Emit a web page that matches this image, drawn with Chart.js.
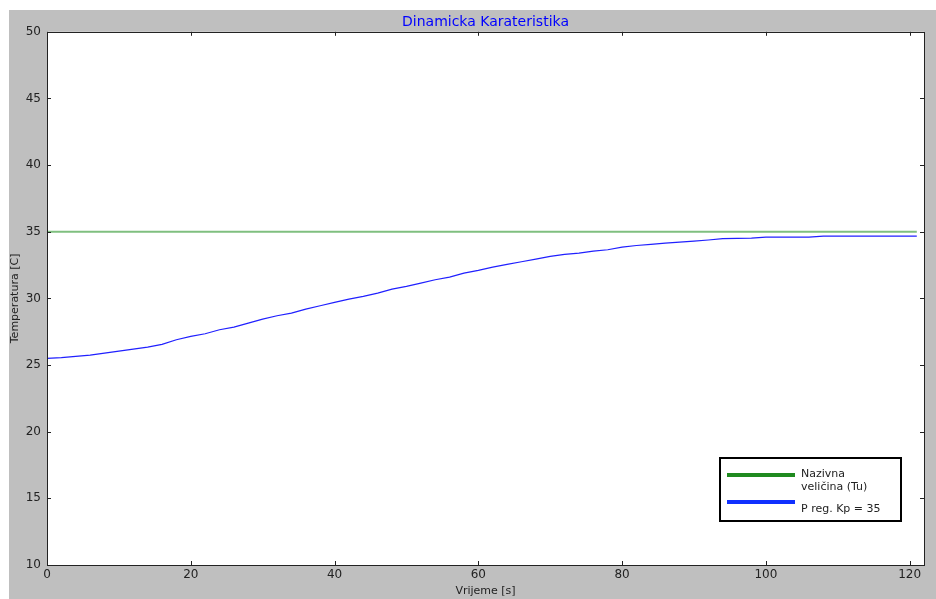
<!DOCTYPE html>
<html>
<head>
<meta charset="utf-8">
<script src="https://cdn.jsdelivr.net/npm/chart.js@4/dist/chart.umd.min.js"></script>
<style>
  html, body { margin: 0; padding: 0; background: #ffffff; }
  #wrap { position: absolute; left: 0; top: 0; width: 936px; height: 599px; }
</style>
</head>
<body>
<div id="wrap"><canvas id="chart" width="936" height="599"></canvas></div>
<script>
// Vrijeme [s] i izmjerena temperatura (ocitano sa slike)
const timeSec = [0, 2, 4, 6, 8, 10, 12, 14, 16, 18, 20, 22, 24, 26, 28, 30, 32, 34, 36, 38,
    40, 42, 44, 46, 48, 50, 52, 54, 56, 58, 60, 62, 64, 66, 68, 70, 72, 74, 76, 78,
    80, 82, 84, 86, 88, 90, 92, 94, 96, 98, 100, 102, 104, 106, 108, 110, 112, 114, 116, 118, 120, 121];
const tempMeasured = [25.50, 25.55, 25.65, 25.75, 25.90, 26.05, 26.20, 26.35, 26.55, 26.90,
    27.15, 27.35, 27.65, 27.85, 28.15, 28.45, 28.70, 28.90, 29.20, 29.45,
    29.70, 29.95, 30.15, 30.40, 30.70, 30.90, 31.15, 31.40, 31.60, 31.90,
    32.10, 32.35, 32.55, 32.75, 32.95, 33.15, 33.30, 33.40, 33.55, 33.65,
    33.85, 33.97, 34.05, 34.15, 34.22, 34.30, 34.38, 34.48, 34.50, 34.52,
    34.60, 34.60, 34.60, 34.60, 34.67, 34.67, 34.67, 34.67, 34.67, 34.67, 34.67, 34.67];

// Nazivna velicina (referenca)
const setpointTime = [0, 121];
const setpointTemp = [35, 35];

const legendLabels = [['Nazivna', 'veličina (Tu)'], ['P reg. Kp = 35']];
const xTicks = [0, 20, 40, 60, 80, 100, 120];
const yTicks = [10, 15, 20, 25, 30, 35, 40, 45, 50];

const toPoints = (xs, ys) => xs.map((x, i) => ({ x: x, y: ys[i] }));

// Sivа pozadina figure (kao matplotlib)
const figureBg = {
    id: 'figureBg',
    beforeDraw(chart) {
        const ctx = chart.ctx;
        ctx.save();
        ctx.fillStyle = '#ffffff';
        ctx.fillRect(0, 0, chart.width, chart.height);
        ctx.fillStyle = '#bfbfbf';
        ctx.fillRect(9, 10, chart.width - 9, chart.height - 10);
        const a = chart.chartArea;
        ctx.fillStyle = '#ffffff';
        ctx.fillRect(a.left, a.top, a.right - a.left, a.bottom - a.top);
        ctx.restore();
    }
};

// Okvir i unutarnje crtice (ticks prema unutra)
const frameTicks = {
    id: 'frameTicks',
    afterDraw(chart) {
        const ctx = chart.ctx;
        const a = chart.chartArea;
        const xs = chart.scales.x, ys = chart.scales.y;
        ctx.save();
        ctx.strokeStyle = '#222222';
        ctx.lineWidth = 1;
        ctx.beginPath();
        xTicks.forEach(v => {
            const px = Math.round(xs.getPixelForValue(v)) + 0.5;
            ctx.moveTo(px, a.bottom); ctx.lineTo(px, a.bottom - 4);
            ctx.moveTo(px, a.top); ctx.lineTo(px, a.top + 4);
        });
        yTicks.forEach(v => {
            const py = Math.round(ys.getPixelForValue(v)) + 0.5;
            ctx.moveTo(a.left, py); ctx.lineTo(a.left + 4, py);
            ctx.moveTo(a.right, py); ctx.lineTo(a.right - 4, py);
        });
        ctx.stroke();
        ctx.strokeRect(Math.round(a.left) + 0.5, Math.round(a.top) + 0.5,
            Math.round(a.right - a.left), Math.round(a.bottom - a.top));
        ctx.restore();
    }
};

// Legenda u donjem desnom kutu
const boxLegend = {
    id: 'boxLegend',
    afterDraw(chart) {
        const ctx = chart.ctx;
        const a = chart.chartArea;
        const bx = a.right - 204, by = a.bottom - 107, bw = 181, bh = 63;
        ctx.save();
        ctx.fillStyle = '#ffffff';
        ctx.fillRect(bx, by, bw, bh);
        ctx.strokeStyle = '#000000';
        ctx.lineWidth = 2;
        ctx.strokeRect(bx, by, bw, bh);
        const colors = ['#1f8a1f', '#1030ff'];
        const lineY = [by + 17, by + 44];
        ctx.font = '11px "DejaVu Sans"';
        ctx.fillStyle = '#222222';
        ctx.textBaseline = 'middle';
        legendLabels.forEach((lines, i) => {
            ctx.strokeStyle = colors[i];
            ctx.lineWidth = 4;
            ctx.beginPath();
            ctx.moveTo(bx + 7, lineY[i]);
            ctx.lineTo(bx + 75, lineY[i]);
            ctx.stroke();
            lines.forEach((t, j) => {
                const ty = i === 0 ? lineY[i] - 1 + j * 13 : lineY[i] + 7;
                ctx.fillText(t, bx + 81, ty);
            });
        });
        ctx.restore();
    }
};

Chart.defaults.font.family = '"DejaVu Sans", sans-serif';
Chart.defaults.color = '#222222';

new Chart(document.getElementById('chart'), {
    type: 'line',
    data: {
        datasets: [
            {
                label: 'Nazivna veličina (Tu)',
                data: toPoints(setpointTime, setpointTemp),
                borderColor: 'rgba(0, 128, 0, 0.5)',
                borderWidth: 2,
                pointRadius: 0,
                tension: 0
            },
            {
                label: 'P reg. Kp = 35',
                data: toPoints(timeSec, tempMeasured),
                borderColor: '#2020ff',
                borderWidth: 1.2,
                pointRadius: 0,
                tension: 0
            }
        ]
    },
    options: {
        responsive: false,
        animation: false,
        layout: { padding: { left: 9, top: 10, right: 12, bottom: 0 } },
        scales: {
            x: {
                type: 'linear',
                min: 0,
                max: 122,
                grid: { display: false, drawTicks: false },
                border: { display: false },
                ticks: { stepSize: 20, includeBounds: false, padding: 3, font: { size: 12 }, maxRotation: 0 },
                title: { display: true, text: 'Vrijeme [s]', font: { size: 11 }, padding: { top: 0, bottom: 1 } },
                afterFit: (s) => { s.height = 34; }
            },
            y: {
                min: 10,
                max: 50,
                grid: { display: false, drawTicks: false },
                border: { display: false },
                ticks: { stepSize: 5, padding: 6, font: { size: 12 } },
                title: { display: true, text: 'Temperatura [C]', font: { size: 11 }, padding: { top: 0, bottom: 0 } },
                afterFit: (s) => { s.width = 38; }
            }
        },
        plugins: {
            legend: { display: false },
            tooltip: { enabled: false },
            title: {
                display: true,
                text: 'Dinamicka Karateristika',
                color: '#0000ff',
                fullSize: false,
                font: { size: 14, weight: 'normal' },
                padding: { top: 4, bottom: 1 }
            }
        }
    },
    plugins: [figureBg, frameTicks, boxLegend]
});
</script>
</body>
</html>
